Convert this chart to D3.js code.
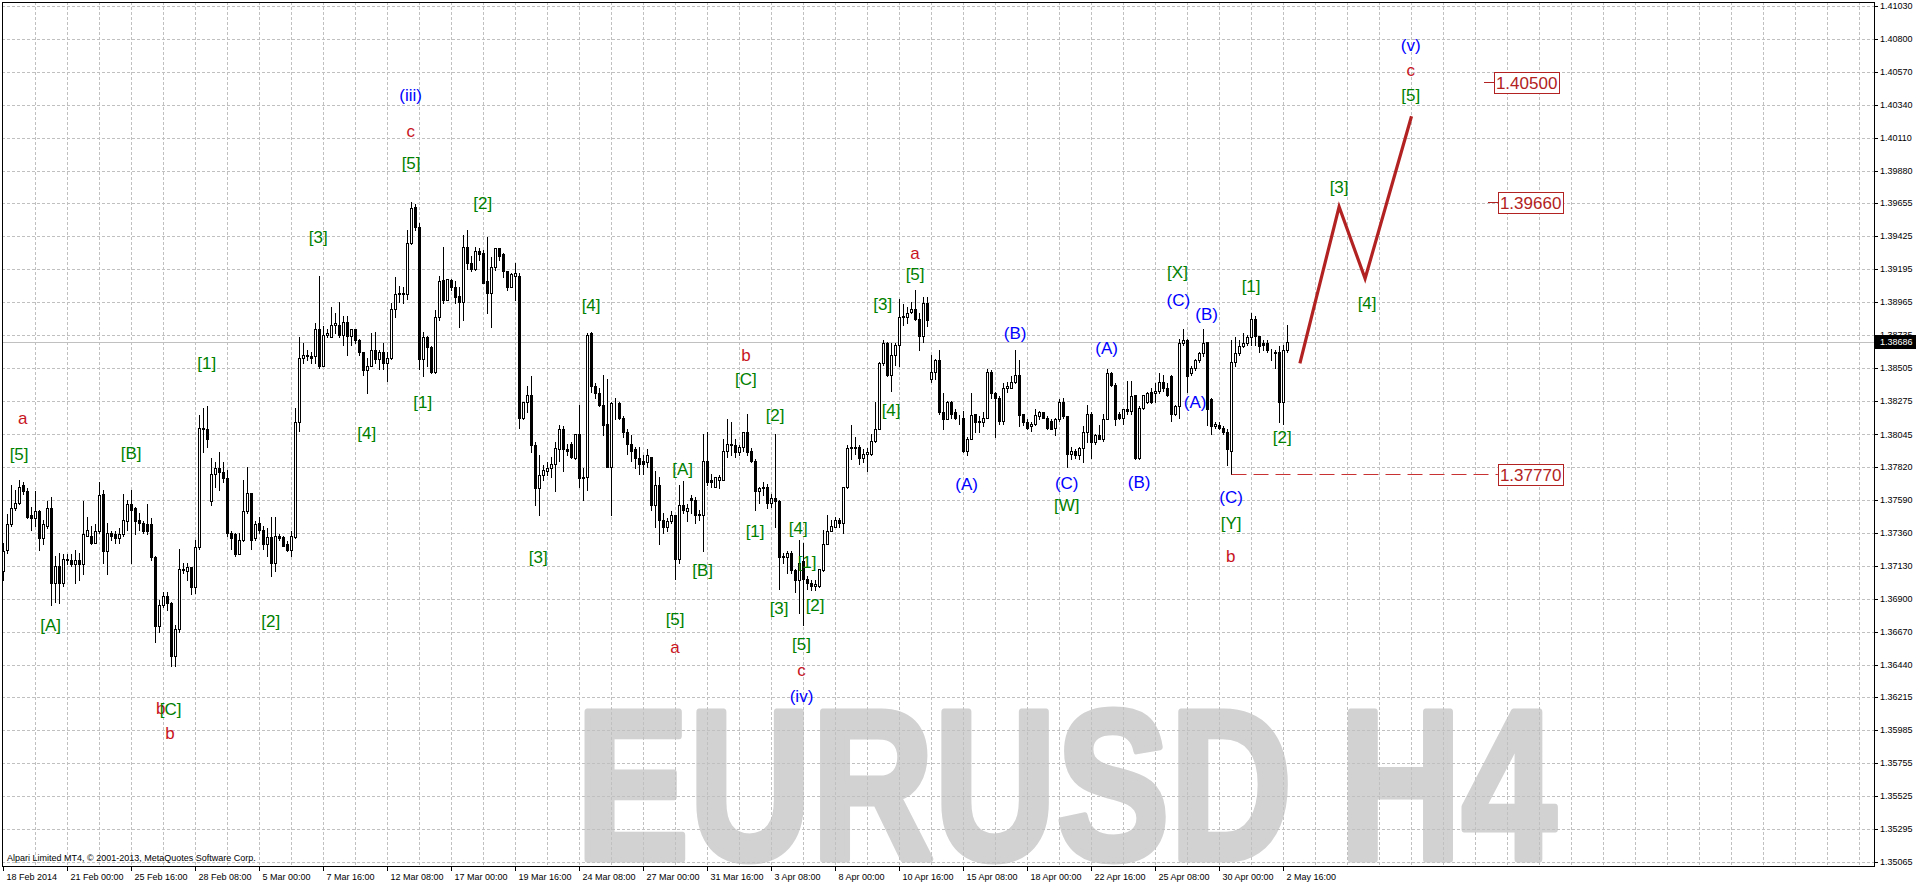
<!doctype html>
<html lang="en">
<head>
<meta charset="utf-8" />
<title>EURUSD H4</title>
<script src="https://d3js.org/d3.v7.min.js"></script>
<style>
  html, body { margin: 0; padding: 0; background: #fff; }
  svg { display: block; }
</style>
</head>
<body>
<div id="chart"></div>
<script>
// time axis labels, one every 16 H4 bars
const timeLabels = ["18 Feb 2014", "21 Feb 00:00", "25 Feb 16:00", "28 Feb 08:00", "5 Mar 00:00",
  "7 Mar 16:00", "12 Mar 08:00", "17 Mar 00:00", "19 Mar 16:00", "24 Mar 08:00", "27 Mar 00:00",
  "31 Mar 16:00", "3 Apr 08:00", "8 Apr 00:00", "10 Apr 16:00", "15 Apr 08:00", "18 Apr 00:00",
  "22 Apr 16:00", "25 Apr 08:00", "30 Apr 00:00", "2 May 16:00"];

// price scale labels
const priceTicks = [1.41030, 1.40800, 1.40570, 1.40340, 1.40110, 1.39880, 1.39655, 1.39425, 1.39195,
  1.38965, 1.38735, 1.38505, 1.38275, 1.38045, 1.37820, 1.37590, 1.37360, 1.37130, 1.36900, 1.36670,
  1.36440, 1.36215, 1.35985, 1.35755, 1.35525, 1.35295, 1.35065];

// open, high, low, close
const candles = [
  [1.3709,1.3729,1.3703,1.3723],[1.3724,1.3749,1.3722,1.3742],[1.3742,1.3769,1.3741,1.3753],[1.3753,1.3766,1.3752,1.3757],
  [1.3757,1.3773,1.3756,1.3768],[1.3769,1.3771,1.3763,1.3765],[1.3765,1.3767,1.3746,1.3747],[1.3748,1.3754,1.3738,1.3746],
  [1.3746,1.3765,1.3741,1.3751],[1.3751,1.3752,1.3724,1.3732],[1.3732,1.3745,1.3728,1.3742],[1.3741,1.3758,1.3739,1.3753],
  [1.3753,1.3761,1.3686,1.3701],[1.3701,1.3720,1.3688,1.3713],[1.3713,1.3722,1.3687,1.3701],[1.3701,1.3721,1.3699,1.3718],
  [1.3718,1.3721,1.3714,1.3717],[1.3717,1.3721,1.3713,1.3714],[1.3714,1.3724,1.3701,1.3717],[1.3717,1.3722,1.3703,1.3714],
  [1.3714,1.3758,1.3707,1.3735],[1.3734,1.3747,1.3734,1.3738],[1.3734,1.3741,1.3728,1.3729],[1.3729,1.3742,1.3729,1.3737],
  [1.3737,1.3771,1.3736,1.3762],[1.3763,1.3766,1.3715,1.3723],[1.3723,1.3743,1.3707,1.3736],[1.3736,1.3737,1.3731,1.3734],
  [1.3735,1.3737,1.3729,1.3732],[1.3732,1.3739,1.3729,1.3735],[1.3735,1.3763,1.3734,1.3745],[1.3744,1.3759,1.3738,1.3756],
  [1.3756,1.3766,1.3715,1.3752],[1.3753,1.3754,1.3735,1.3744],[1.3745,1.3750,1.3738,1.3743],[1.3743,1.3744,1.3736,1.3737],
  [1.3742,1.3756,1.3735,1.3737],[1.3742,1.3746,1.3717,1.3719],[1.3719,1.3720,1.3660,1.3671],[1.3671,1.3689,1.3667,1.3686],
  [1.3686,1.3695,1.3684,1.3692],[1.3692,1.3695,1.3682,1.3687],[1.3687,1.3688,1.3643,1.3650],[1.3650,1.3672,1.3643,1.3669],
  [1.3669,1.3725,1.3667,1.3711],[1.3711,1.3715,1.3708,1.3710],[1.3709,1.3715,1.3703,1.3712],[1.3712,1.3712,1.3693,1.3698],
  [1.3698,1.3731,1.3694,1.3726],[1.3726,1.3818,1.3725,1.3809],[1.3809,1.3823,1.3792,1.3808],[1.3808,1.3824,1.3796,1.3801],
  [1.3758,1.3788,1.3755,1.3777],[1.3777,1.3785,1.3768,1.3781],[1.3781,1.3792,1.3766,1.3778],[1.3778,1.3785,1.3771,1.3774],
  [1.3774,1.3780,1.3734,1.3736],[1.3736,1.3737,1.3725,1.3732],[1.3735,1.3736,1.3720,1.3721],[1.3721,1.3736,1.3721,1.3731],
  [1.3731,1.3773,1.3730,1.3751],[1.3751,1.3782,1.3750,1.3764],[1.3764,1.3764,1.3725,1.3731],[1.3732,1.3744,1.3731,1.3742],
  [1.3743,1.3747,1.3736,1.3738],[1.3738,1.3741,1.3725,1.3728],[1.3728,1.3739,1.3720,1.3733],[1.3733,1.3747,1.3706,1.3715],
  [1.3715,1.3747,1.3709,1.3734],[1.3734,1.3735,1.3731,1.3732],[1.3733,1.3734,1.3727,1.3727],[1.3728,1.3730,1.3723,1.3724],
  [1.3724,1.3737,1.3720,1.3734],[1.3733,1.3823,1.3732,1.3813],[1.3813,1.3872,1.3807,1.3858],[1.3858,1.3868,1.3854,1.3860],
  [1.3860,1.3863,1.3856,1.3859],[1.3859,1.3862,1.3854,1.3858],[1.3859,1.3882,1.3854,1.3878],[1.3878,1.3915,1.3851,1.3852],
  [1.3852,1.3880,1.3852,1.3874],[1.3874,1.3878,1.3872,1.3875],[1.3872,1.3893,1.3872,1.3881],[1.3881,1.3889,1.3875,1.3882],
  [1.3881,1.3897,1.3872,1.3874],[1.3874,1.3887,1.3867,1.3883],[1.3883,1.3887,1.3860,1.3873],[1.3873,1.3878,1.3867,1.3878],
  [1.3878,1.3878,1.3868,1.3870],[1.3870,1.3871,1.3860,1.3862],[1.3862,1.3862,1.3846,1.3849],[1.3849,1.3858,1.3833,1.3852],
  [1.3852,1.3875,1.3852,1.3863],[1.3863,1.3876,1.3854,1.3857],[1.3857,1.3863,1.3850,1.3862],[1.3862,1.3868,1.3850,1.3854],
  [1.3854,1.3862,1.3842,1.3858],[1.3858,1.3896,1.3857,1.3892],[1.3892,1.3914,1.3886,1.3902],[1.3902,1.3908,1.3897,1.3903],
  [1.3903,1.3907,1.3896,1.3902],[1.3902,1.3947,1.3899,1.3938],[1.3938,1.3966,1.3937,1.3962],[1.3963,1.3965,1.3947,1.3949],
  [1.3949,1.3952,1.3850,1.3857],[1.3857,1.3876,1.3845,1.3872],[1.3872,1.3873,1.3852,1.3865],[1.3865,1.3866,1.3847,1.3848],
  [1.3848,1.3891,1.3847,1.3886],[1.3886,1.3915,1.3884,1.3911],[1.3912,1.3935,1.3896,1.3898],[1.3898,1.3913,1.3898,1.3913],
  [1.3912,1.3913,1.3905,1.3907],[1.3907,1.3911,1.3896,1.3900],[1.3901,1.3907,1.3879,1.3897],[1.3897,1.3943,1.3884,1.3935],
  [1.3935,1.3947,1.3920,1.3924],[1.3924,1.3929,1.3918,1.3920],[1.3920,1.3935,1.3919,1.3932],[1.3932,1.3934,1.3926,1.3930],
  [1.3931,1.3933,1.3910,1.3910],[1.3911,1.3942,1.3889,1.3903],[1.3903,1.3928,1.3879,1.3921],[1.3921,1.3934,1.3919,1.3934],
  [1.3934,1.3934,1.3926,1.3929],[1.3930,1.3931,1.3914,1.3918],[1.3918,1.3918,1.3905,1.3907],[1.3907,1.3917,1.3907,1.3916],
  [1.3915,1.3924,1.3898,1.3917],[1.3915,1.3917,1.3809,1.3816],[1.3816,1.3827,1.3815,1.3827],[1.3827,1.3838,1.3820,1.3832],
  [1.3832,1.3845,1.3792,1.3797],[1.3797,1.3799,1.3755,1.3767],[1.3767,1.3790,1.3748,1.3776],[1.3776,1.3783,1.3773,1.3780],
  [1.3779,1.3785,1.3776,1.3781],[1.3781,1.3789,1.3775,1.3784],[1.3784,1.3799,1.3765,1.3795],[1.3794,1.3811,1.3786,1.3808],
  [1.3808,1.3810,1.3779,1.3794],[1.3794,1.3798,1.3790,1.3793],[1.3798,1.3799,1.3788,1.3789],[1.3788,1.3805,1.3787,1.3805],
  [1.3805,1.3825,1.3768,1.3774],[1.3775,1.3781,1.3759,1.3774],[1.3775,1.3875,1.3766,1.3874],[1.3875,1.3876,1.3834,1.3838],
  [1.3838,1.3840,1.3830,1.3833],[1.3833,1.3837,1.3824,1.3825],[1.3825,1.3846,1.3804,1.3811],[1.3812,1.3843,1.3782,1.3782],
  [1.3782,1.3827,1.3748,1.3826],[1.3826,1.3830,1.3815,1.3826],[1.3826,1.3827,1.3815,1.3816],[1.3816,1.3817,1.3803,1.3806],
  [1.3806,1.3808,1.3791,1.3798],[1.3798,1.3804,1.3786,1.3793],[1.3794,1.3796,1.3781,1.3788],[1.3788,1.3796,1.3777,1.3784],
  [1.3786,1.3790,1.3777,1.3784],[1.3785,1.3794,1.3782,1.3790],[1.3789,1.3789,1.3752,1.3755],[1.3755,1.3779,1.3740,1.3769],
  [1.3769,1.3775,1.3728,1.3745],[1.3745,1.3750,1.3736,1.3740],[1.3740,1.3746,1.3737,1.3744],[1.3744,1.3751,1.3743,1.3748],
  [1.3748,1.3748,1.3704,1.3718],[1.3718,1.3769,1.3715,1.3755],[1.3755,1.3772,1.3750,1.3752],[1.3751,1.3756,1.3744,1.3753],
  [1.3760,1.3762,1.3750,1.3759],[1.3759,1.3761,1.3743,1.3748],[1.3749,1.3752,1.3745,1.3748],[1.3748,1.3805,1.3723,1.3786],
  [1.3786,1.3806,1.3769,1.3771],[1.3773,1.3777,1.3768,1.3771],[1.3768,1.3775,1.3768,1.3775],[1.3773,1.3776,1.3767,1.3775],
  [1.3773,1.3801,1.3773,1.3793],[1.3793,1.3815,1.3789,1.3798],[1.3798,1.3813,1.3790,1.3797],[1.3797,1.3801,1.3789,1.3792],
  [1.3792,1.3797,1.3790,1.3796],[1.3796,1.3806,1.3793,1.3806],[1.3806,1.3819,1.3790,1.3792],[1.3793,1.3795,1.3785,1.3786],
  [1.3786,1.3787,1.3752,1.3765],[1.3765,1.3768,1.3757,1.3767],[1.3767,1.3771,1.3762,1.3768],[1.3768,1.3770,1.3753,1.3757],
  [1.3757,1.3763,1.3754,1.3760],[1.3760,1.3805,1.3740,1.3758],[1.3758,1.3759,1.3697,1.3719],[1.3720,1.3722,1.3715,1.3719],
  [1.3719,1.3723,1.3708,1.3722],[1.3722,1.3723,1.3708,1.3710],[1.3710,1.3711,1.3695,1.3703],[1.3703,1.3731,1.3680,1.3715],
  [1.3716,1.3729,1.3672,1.3704],[1.3704,1.3706,1.3697,1.3701],[1.3701,1.3703,1.3696,1.3699],[1.3699,1.3703,1.3696,1.3700],
  [1.3699,1.3711,1.3698,1.3711],[1.3710,1.3738,1.3709,1.3728],[1.3728,1.3748,1.3728,1.3737],[1.3737,1.3745,1.3737,1.3741],
  [1.3740,1.3747,1.3740,1.3745],[1.3745,1.3746,1.3740,1.3743],[1.3743,1.3768,1.3736,1.3768],[1.3768,1.3797,1.3767,1.3795],
  [1.3795,1.3811,1.3787,1.3796],[1.3795,1.3803,1.3791,1.3796],[1.3796,1.3797,1.3784,1.3788],[1.3788,1.3794,1.3785,1.3791],
  [1.3791,1.3795,1.3779,1.3792],[1.3791,1.3805,1.3790,1.3800],[1.3800,1.3827,1.3799,1.3808],[1.3808,1.3855,1.3808,1.3854],
  [1.3854,1.3870,1.3853,1.3868],[1.3868,1.3869,1.3845,1.3846],[1.3846,1.3868,1.3835,1.3860],[1.3860,1.3868,1.3853,1.3867],
  [1.3867,1.3899,1.3852,1.3886],[1.3886,1.3895,1.3881,1.3887],[1.3886,1.3893,1.3882,1.3889],[1.3890,1.3897,1.3889,1.3892],
  [1.3892,1.3905,1.3884,1.3885],[1.3885,1.3889,1.3863,1.3873],[1.3873,1.3900,1.3869,1.3896],[1.3896,1.3900,1.3880,1.3884],
  [1.3843,1.3860,1.3841,1.3848],[1.3848,1.3857,1.3843,1.3856],[1.3856,1.3863,1.3819,1.3820],[1.3820,1.3833,1.3808,1.3815],
  [1.3815,1.3828,1.3815,1.3827],[1.3827,1.3828,1.3816,1.3819],[1.3820,1.3822,1.3815,1.3816],[1.3816,1.3818,1.3812,1.3816],
  [1.3816,1.3821,1.3792,1.3793],[1.3793,1.3803,1.3790,1.3801],[1.3801,1.3833,1.3801,1.3818],[1.3819,1.3819,1.3806,1.3813],
  [1.3813,1.3817,1.3806,1.3814],[1.3813,1.3820,1.3810,1.3816],[1.3816,1.3850,1.3816,1.3848],[1.3848,1.3849,1.3830,1.3833],
  [1.3833,1.3834,1.3803,1.3830],[1.3830,1.3831,1.3812,1.3814],[1.3814,1.3840,1.3812,1.3837],[1.3837,1.3841,1.3834,1.3838],
  [1.3837,1.3845,1.3837,1.3841],[1.3841,1.3863,1.3840,1.3846],[1.3846,1.3856,1.3810,1.3818],[1.3819,1.3819,1.3811,1.3813],
  [1.3813,1.3815,1.3808,1.3809],[1.3810,1.3813,1.3807,1.3812],[1.3812,1.3822,1.3811,1.3818],[1.3817,1.3821,1.3815,1.3820],
  [1.3820,1.3820,1.3816,1.3816],[1.3816,1.3817,1.3808,1.3809],[1.3814,1.3815,1.3808,1.3808],[1.3809,1.3816,1.3804,1.3815],
  [1.3815,1.3829,1.3814,1.3827],[1.3827,1.3830,1.3816,1.3817],[1.3817,1.3817,1.3782,1.3791],[1.3791,1.3796,1.3787,1.3793],
  [1.3793,1.3794,1.3788,1.3790],[1.3790,1.3796,1.3787,1.3795],[1.3795,1.3810,1.3785,1.3806],[1.3806,1.3825,1.3799,1.3819],
  [1.3819,1.3820,1.3788,1.3799],[1.3799,1.3805,1.3798,1.3804],[1.3804,1.3811,1.3801,1.3801],[1.3801,1.3819,1.3800,1.3815],
  [1.3815,1.3850,1.3815,1.3847],[1.3847,1.3848,1.3838,1.3839],[1.3839,1.3840,1.3811,1.3815],[1.3819,1.3820,1.3815,1.3816],
  [1.3816,1.3822,1.3812,1.3822],[1.3822,1.3842,1.3819,1.3821],[1.3821,1.3842,1.3819,1.3831],[1.3832,1.3832,1.3787,1.3788],
  [1.3788,1.3824,1.3787,1.3823],[1.3823,1.3832,1.3822,1.3832],[1.3827,1.3834,1.3826,1.3833],[1.3834,1.3837,1.3826,1.3827],
  [1.3833,1.3840,1.3827,1.3835],[1.3835,1.3847,1.3833,1.3841],[1.3841,1.3846,1.3835,1.3837],[1.3837,1.3840,1.3831,1.3832],
  [1.3845,1.3846,1.3814,1.3819],[1.3819,1.3825,1.3818,1.3824],[1.3824,1.3871,1.3816,1.3868],[1.3868,1.3878,1.3867,1.3870],
  [1.3870,1.3871,1.3834,1.3845],[1.3847,1.3852,1.3846,1.3851],[1.3851,1.3857,1.3849,1.3856],[1.3856,1.3862,1.3855,1.3861],
  [1.3861,1.3878,1.3859,1.3868],[1.3869,1.3869,1.3811,1.3822],[1.3829,1.3830,1.3805,1.3810],[1.3810,1.3813,1.3809,1.3812],
  [1.3811,1.3813,1.3808,1.3809],[1.3809,1.3810,1.3805,1.3806],[1.3806,1.3808,1.3783,1.3794],[1.3793,1.3870,1.3777,1.3855],
  [1.3855,1.3872,1.3852,1.3861],[1.3861,1.3870,1.3860,1.3866],[1.3866,1.3875,1.3865,1.3868],[1.3868,1.3874,1.3867,1.3872],
  [1.3872,1.3889,1.3867,1.3885],[1.3885,1.3887,1.3867,1.3873],[1.3873,1.3873,1.3862,1.3866],[1.3868,1.3870,1.3863,1.3867],
  [1.3868,1.3870,1.3862,1.3863],[1.3863,1.3864,1.3856,1.3863],[1.3861,1.3863,1.3851,1.3862],[1.3862,1.3866,1.3813,1.3827],
  [1.3827,1.3867,1.3812,1.3863],[1.3863,1.3881,1.3862,1.38686]
];

const lastPrice = 1.38686;

// projected path: [bar, price]
const forecast = [[324.1, 1.3854], [333.9, 1.3963], [340.4, 1.3913], [352.0, 1.4026]];

// target / stop levels
const levelPrices = [1.40500, 1.39660, 1.37770];
const levelBars = [370.1, 371.1, 371.1];
const stopStartBar = 307;

// wave labels: text, bar, price, kind (g = minor, r = intermediate, b = minute)
const waveLabels = [
  ["a", 4.8, 1.38157, "r"], ["[5]", 3.9, 1.37908, "g"], ["[B]", 31.9, 1.37913, "g"],
  ["[A]", 11.8, 1.36718, "g"], ["b", 39.3, 1.36138, "r"], ["[C]", 41.8, 1.36133, "g"],
  ["b", 41.6, 1.35968, "r"], ["[2]", 66.8, 1.36748, "g"], ["[1]", 50.8, 1.38540, "g"],
  ["[3]", 78.7, 1.39418, "g"], ["[4]", 90.8, 1.38057, "g"], ["(iii)", 101.8, 1.40406, "b"],
  ["c", 101.8, 1.40159, "r"], ["[5]", 101.9, 1.39937, "g"], ["[1]", 104.8, 1.38269, "g"],
  ["[2]", 119.8, 1.39659, "g"], ["[4]", 146.9, 1.38946, "g"], ["[3]", 133.7, 1.37193, "g"],
  ["[A]", 169.8, 1.37802, "g"], ["[B]", 174.8, 1.37101, "g"], ["[5]", 167.9, 1.36757, "g"],
  ["a", 167.9, 1.36567, "r"], ["b", 185.6, 1.38598, "r"], ["[C]", 185.6, 1.38431, "g"],
  ["[2]", 192.9, 1.38180, "g"], ["[1]", 187.9, 1.37369, "g"], ["[4]", 198.7, 1.37391, "g"],
  ["[1]", 200.9, 1.37159, "g"], ["[3]", 193.9, 1.36834, "g"], ["[2]", 202.9, 1.36857, "g"],
  ["[5]", 199.5, 1.36585, "g"], ["c", 199.5, 1.36406, "r"], ["(iv)", 199.5, 1.36220, "b"],
  ["[3]", 219.8, 1.38953, "g"], ["[4]", 221.9, 1.38215, "g"], ["a", 227.9, 1.39306, "r"],
  ["[5]", 227.9, 1.39160, "g"], ["(A)", 240.8, 1.37700, "b"], ["(B)", 252.9, 1.38749, "b"],
  ["(C)", 265.8, 1.37704, "b"], ["[W]", 265.8, 1.37553, "g"], ["(A)", 275.8, 1.38645, "b"],
  ["(B)", 283.9, 1.37711, "b"], ["[X]", 293.5, 1.39178, "g"], ["(C)", 293.7, 1.38981, "b"],
  ["(A)", 297.9, 1.38269, "b"], ["(B)", 300.8, 1.38883, "b"], ["(C)", 306.9, 1.37611, "b"],
  ["[Y]", 306.9, 1.37426, "g"], ["b", 306.8, 1.37198, "r"], ["[1]", 311.9, 1.39078, "g"],
  ["[2]", 319.7, 1.38029, "g"], ["[3]", 333.9, 1.39770, "g"], ["[4]", 340.9, 1.38958, "g"],
  ["[5]", 351.8, 1.40408, "g"], ["c", 351.8, 1.40583, "r"], ["(v)", 351.8, 1.40757, "b"]
];

const W = 1916, H = 884;
const plotL = 2, plotT = 2, plotR = 1874, plotB = 866;
const labelColor = { g: "#008000", r: "#c8141e", b: "#0000ff" };
const red = "#b22222";
const axisFont = "'Liberation Sans', Arial, sans-serif";

// 4 px per H4 bar
const x = d3.scaleLinear().domain([0, 467]).range([3.5, 1871.5]);
const y = d3.scaleLinear().domain([1.35039, 1.41056]).range([plotB, plotT]);
const py = v => Math.round(y(v)) + 0.5;

const svg = d3.select("#chart").append("svg")
  .attr("width", W).attr("height", H)
  .style("font-family", axisFont);

svg.append("rect").attr("width", W).attr("height", H).attr("fill", "#fff");

svg.append("clipPath").attr("id", "plot")
  .append("rect").attr("x", plotL).attr("y", plotT)
  .attr("width", plotR - plotL).attr("height", plotB - plotT);

const g = svg.append("g").attr("clip-path", "url(#plot)");

// watermark
g.append("text")
  .attr("x", 576).attr("y", 859)
  .attr("textLength", 980).attr("lengthAdjust", "spacingAndGlyphs")
  .style("font-size", "214px").style("font-weight", "bold")
  .attr("fill", "#d2d2d2").attr("stroke", "#d2d2d2").attr("stroke-width", 7)
  .attr("stroke-linejoin", "round")
  .text("EURUSD H4");

// grid
const grid = g.append("g")
  .attr("stroke", "#c0c0c0").attr("stroke-dasharray", "3,2")
  .attr("shape-rendering", "crispEdges");
grid.selectAll("line.h").data(priceTicks).join("line").attr("class", "h")
  .attr("x1", plotL).attr("x2", plotR)
  .attr("y1", d => py(d)).attr("y2", d => py(d));
grid.selectAll("line.v").data(d3.range(8, 467, 8)).join("line").attr("class", "v")
  .attr("x1", d => x(d)).attr("x2", d => x(d))
  .attr("y1", plotT).attr("y2", plotB);

// bid line
g.append("line")
  .attr("x1", plotL).attr("x2", plotR)
  .attr("y1", py(lastPrice)).attr("y2", py(lastPrice))
  .attr("stroke", "#c0c0c0").attr("shape-rendering", "crispEdges");

// candles
const bars = g.append("g").attr("shape-rendering", "crispEdges");
bars.selectAll("line.wick").data(candles).join("line").attr("class", "wick")
  .attr("x1", (d, i) => x(i)).attr("x2", (d, i) => x(i))
  .attr("y1", d => Math.round(y(d[1])))
  .attr("y2", d => Math.round(y(d[2])) + 1)
  .attr("stroke", "#000");
bars.selectAll("rect.body").data(candles).join("rect").attr("class", "body")
  .attr("x", (d, i) => x(i) - 1)
  .attr("width", 2)
  .attr("y", d => py(Math.max(d[0], d[3])))
  .attr("height", d => Math.max(0, Math.round(y(Math.min(d[0], d[3]))) - Math.round(y(Math.max(d[0], d[3])))))
  .attr("fill", d => d[3] >= d[0] ? "#fff" : "#000")
  .attr("stroke", "#000");

// stop level, dashed
g.append("line")
  .attr("x1", x(stopStartBar)).attr("x2", x(levelBars[2]) + 10)
  .attr("y1", py(levelPrices[2])).attr("y2", py(levelPrices[2]))
  .attr("stroke", "#c83232").attr("stroke-dasharray", "15,7");

// projection
g.append("path")
  .datum(forecast)
  .attr("d", d3.line().x(d => x(d[0])).y(d => y(d[1])))
  .attr("fill", "none").attr("stroke", red).attr("stroke-width", 3.2)
  .attr("stroke-linejoin", "miter");

// boxed levels
levelPrices.forEach((p, k) => {
  const x0 = x(levelBars[k]), yy = py(p);
  if (k < 2) {
    g.append("line").attr("x1", x0).attr("x2", x0 + 10).attr("y1", yy).attr("y2", yy)
      .attr("stroke", red).attr("shape-rendering", "crispEdges");
  }
  const t = g.append("text")
    .attr("x", x0 + 12).attr("y", yy).attr("dy", "0.36em")
    .style("font-size", "17px").attr("fill", red)
    .text(p.toFixed(5));
  const bb = t.node().getBBox();
  g.insert("rect", () => t.node())
    .attr("x", Math.round(x0 + 10) + 0.5).attr("y", Math.round(yy - 11) + 0.5)
    .attr("width", Math.round(bb.width + 4)).attr("height", 21)
    .attr("fill", "#fff").attr("stroke", red).attr("shape-rendering", "crispEdges");
});

// wave labels
g.selectAll("text.wave").data(waveLabels).join("text").attr("class", "wave")
  .attr("x", d => x(d[1])).attr("y", d => y(d[2]))
  .attr("text-anchor", "middle").attr("dy", "0.35em")
  .style("font-size", "17px")
  .attr("fill", d => labelColor[d[3]])
  .text(d => d[0]);

// frame
svg.append("rect")
  .attr("x", plotL + 0.5).attr("y", plotT + 0.5)
  .attr("width", plotR - plotL).attr("height", plotB - plotT)
  .attr("fill", "none").attr("stroke", "#000").attr("shape-rendering", "crispEdges");

// price axis
const pa = svg.append("g").attr("shape-rendering", "crispEdges");
pa.selectAll("line").data(priceTicks).join("line")
  .attr("x1", plotR).attr("x2", plotR + 4)
  .attr("y1", d => py(d)).attr("y2", d => py(d)).attr("stroke", "#000");
svg.append("g").selectAll("text").data(priceTicks).join("text")
  .attr("x", plotR + 6).attr("y", d => y(d)).attr("dy", "0.35em")
  .style("font-size", "9px").attr("fill", "#000")
  .text(d => d.toFixed(5));

// current price tag
svg.append("rect")
  .attr("x", plotR + 1).attr("y", Math.round(y(lastPrice)) - 7)
  .attr("width", W - plotR - 1).attr("height", 14).attr("fill", "#000");
svg.append("text")
  .attr("x", plotR + 6).attr("y", y(lastPrice)).attr("dy", "0.35em")
  .style("font-size", "9px").attr("fill", "#fff")
  .text(lastPrice.toFixed(5));

// time axis
const ta = svg.append("g");
ta.selectAll("line").data(timeLabels).join("line")
  .attr("x1", (d, i) => x(i * 16)).attr("x2", (d, i) => x(i * 16))
  .attr("y1", plotB).attr("y2", plotB + 5)
  .attr("stroke", "#000").attr("shape-rendering", "crispEdges");
ta.selectAll("text").data(timeLabels).join("text")
  .attr("x", (d, i) => x(i * 16) + 3).attr("y", plotB + 14)
  .style("font-size", "9px").attr("fill", "#000")
  .text(d => d);

svg.append("text")
  .attr("x", 7).attr("y", plotB - 5)
  .style("font-size", "9px").attr("fill", "#000")
  .text("Alpari Limited MT4, \u00a9 2001-2013, MetaQuotes Software Corp.");
</script>
</body>
</html>
